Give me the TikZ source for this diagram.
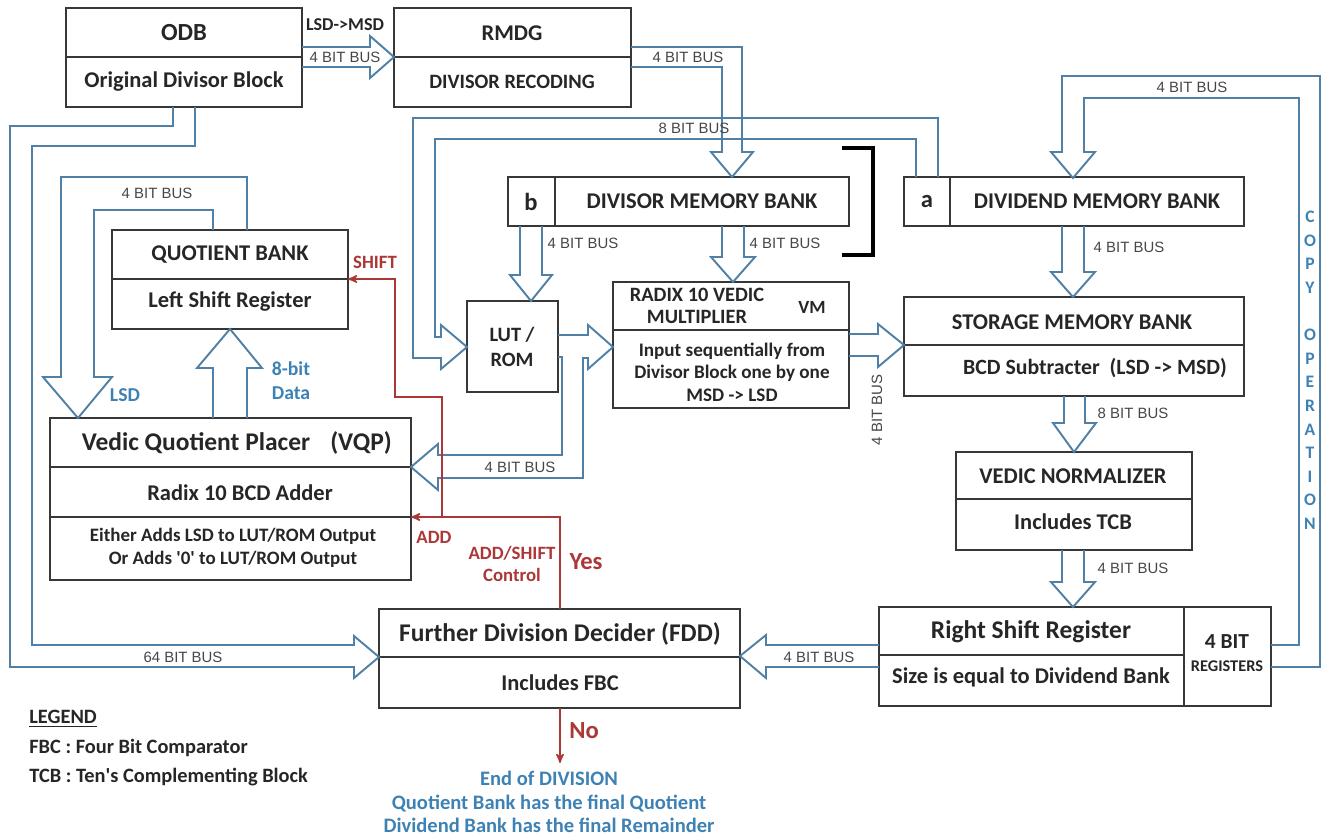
\documentclass[tikz,border=0pt]{standalone}
\usepackage{fontspec}
\setmainfont{Carlito}
\newfontfamily\busfont{Liberation Sans}
\usetikzlibrary{arrows}
\usetikzlibrary{fit}
\definecolor{busblue}{RGB}{80,128,165}
\definecolor{lblgray}{RGB}{70,70,70}
\definecolor{txtblue}{RGB}{62,130,180}
\definecolor{ctlred}{RGB}{172,55,55}
\definecolor{boxgray}{RGB}{55,55,55}

\begin{document}
\begin{tikzpicture}[x=0.02cm,y=-0.02cm] % pixel grid, y downwards
	\tikzset{box/.style={draw=boxgray,line width=1.3pt,inner sep=0pt},
		bus/.style={draw=busblue,line width=1.1pt,line join=miter},
		ttl/.style={inner sep=0pt,text=black!85,font=\bfseries\fontsize{12.8}{15}\selectfont},
		big/.style={ttl,font=\bfseries\fontsize{14.5}{17}\selectfont},
		sml/.style={ttl,font=\bfseries\fontsize{10.8}{13}\selectfont},
		buslbl/.style={inner sep=0pt,text=lblgray,font=\busfont\fontsize{8.5}{10}\selectfont},
		bluelbl/.style={inner sep=0pt,text=txtblue,font=\bfseries\fontsize{11.2}{13.5}\selectfont},
		redlbl/.style={inner sep=0pt,text=ctlred,font=\bfseries\fontsize{10.7}{13}\selectfont},
		ctl/.style={draw=ctlred,line width=0.9pt,-stealth'}}
	
	\useasboundingbox (0,0) rectangle (1323,839);
	
	% Top row: ODB and RMDG
	\node[box,fit={(66,8)(302,107)}] (odb) {};
	\draw[box] (66,57) -- (302,57);
	\node[ttl,font=\bfseries\fontsize{14}{16}\selectfont] (odbA) at (184,33) {ODB};
	\node[ttl] (odbB) at (184,82) {Original Divisor Block};
	
	\node[box,fit={(394,8)(631,107)}] (rmdg) {};
	\draw[box] (394,57) -- (631,57);
	\node[ttl] (rmdgA) at (512,33) {RMDG};
	\node[ttl,font=\bfseries\fontsize{11.6}{14}\selectfont] (rmdgB) at (512,82) {DIVISOR RECODING};
	
	% Memory banks
	\node[box,fit={(508,177)(849,226)}] (dmb) {};
	\draw[box] (555,177) -- (555,226);
	\node[ttl,font=\bfseries\fontsize{14}{16}\selectfont] (dmbA) at (531,202) {b};
	\node[ttl] (dmbB) at (702,201) {DIVISOR MEMORY BANK};
	
	\node[box,fit={(904,177)(1244,226)}] (ddmb) {};
	\draw[box] (950,177) -- (950,226);
	\node[ttl,font=\bfseries\fontsize{14}{16}\selectfont] (ddmbA) at (927,202) {a};
	\node[ttl] (ddmbB) at (1097,201) {DIVIDEND MEMORY BANK};
	
	% bracket
	\draw[black,line width=1.8pt] (842,148) -- (873,148) -- (873,255) -- (842,255);
	
	% Quotient bank
	\node[box,fit={(112,230)(348,329)}] (qb) {};
	\draw[box] (112,279) -- (348,279);
	\node[ttl] (qbA) at (230,255) {QUOTIENT BANK};
	\node[ttl] (qbB) at (230,302) {Left Shift Register};
	
	% LUT / ROM
	\node[box,fit={(467,301)(558,392)}] (lut) {};
	\node[ttl,font=\bfseries\fontsize{11.6}{14}\selectfont,align=center] (lutA) at (512,347) {LUT /\\ROM};
	
	% Vedic multiplier
	\node[box,fit={(613,282)(849,408)}] (vm) {};
	\draw[box] (613,330) -- (849,330);
	\node[ttl,font=\bfseries\fontsize{11.6}{12.5}\selectfont,align=center] (vmA) at (697,306) {RADIX 10 VEDIC\\MULTIPLIER};
	\node[ttl,font=\bfseries\fontsize{10.6}{12}\selectfont] (vmB) at (812,307) {VM};
	\node[ttl,font=\bfseries\fontsize{10.9}{12.8}\selectfont,align=center] (vmC) at (732,372) {Input sequentially from\\Divisor Block one by one\\MSD -> LSD};
	
	% Storage memory bank
	\node[box,fit={(904,297)(1244,396)}] (smb) {};
	\draw[box] (904,345) -- (1244,345);
	\node[ttl] (smbA) at (1072,322) {STORAGE MEMORY BANK};
	\node[ttl,font=\bfseries\fontsize{12.4}{15}\selectfont] (smbB) at (1095,368) {BCD Subtracter~~(LSD -> MSD)};
	
	% Vedic quotient placer
	\node[box,fit={(50,418)(411,580)}] (vqp) {};
	\draw[box] (50,467) -- (411,467);
	\draw[box] (50,517) -- (411,517);
	\node[big] (vqpA) at (196,443) {Vedic Quotient Placer};
	\node[big] (vqpB) at (361,443) {(VQP)};
	\node[ttl] (vqpC) at (240,493) {Radix 10 BCD Adder};
	\node[sml,align=center] (vqpD) at (233,548) {Either Adds LSD to LUT/ROM Output\\Or Adds \textquotesingle0\textquotesingle\ to LUT/ROM Output};
	
	% Vedic normalizer
	\node[box,fit={(956,452)(1192,550)}] (vn) {};
	\draw[box] (956,499) -- (1192,499);
	\node[ttl] (vnA) at (1073,476) {VEDIC NORMALIZER};
	\node[ttl] (vnB) at (1073,522) {Includes TCB};
	
	% Right shift register
	\node[box,fit={(879,607)(1271,706)}] (rsr) {};
	\draw[box] (1184,607) -- (1184,706);
	\draw[box] (879,655) -- (1184,655);
	\node[big] (rsrA) at (1031,632) {Right Shift Register};
	\node[ttl] (rsrB) at (1031,677) {Size is equal to Dividend Bank};
	\node[ttl,font=\bfseries\fontsize{12.2}{14}\selectfont] (rsrC) at (1227,642) {4 BIT};
	\node[ttl,font=\bfseries\fontsize{9.3}{11}\selectfont] (rsrD) at (1227,666) {REGISTERS};
	
	% Further division decider
	\node[box,fit={(379,609)(740,708)}] (fdd) {};
	\draw[box] (379,657) -- (740,657);
	\node[big] (fddA) at (560,634) {Further Division Decider (FDD)};
	\node[ttl] (fddB) at (560,683) {Includes FBC};
	
	% Buses
	\draw[bus] (302,47) -- (370,47) -- (370,36) -- (394,57) -- (370,78) -- (370,67) -- (302,67);
	\draw[bus] (631,47) -- (742,47) -- (742,152) -- (753,152) -- (732,177) -- (711,152) -- (722,152) -- (722,67) -- (631,67);
	\draw[bus] (938,177) -- (938,118) -- (413,118) -- (413,358) -- (441,358) -- (441,369) -- (467,347) -- (441,325) -- (441,337) -- (435,337) -- (435,139) -- (916,139) -- (916,177);
	\draw[bus] (1271,645) -- (1299,645) -- (1299,98) -- (1084,98) -- (1084,152) -- (1095,152) -- (1073,178) -- (1051,152) -- (1062,152) -- (1062,76) -- (1320,76) -- (1320,667) -- (1271,667);
	\draw[bus] (1062,226) -- (1062,272) -- (1051,272) -- (1073,297) -- (1095,272) -- (1084,272) -- (1084,226);
	\draw[bus] (520,226) -- (520,275) -- (510,275) -- (531,301) -- (552,275) -- (542,275) -- (542,226);
	\draw[bus] (722,226) -- (722,257) -- (711,257) -- (733,282) -- (755,257) -- (744,257) -- (744,226);
	\draw[bus] (558,335) -- (588,335) -- (588,325) -- (613,347) -- (588,369) -- (588,358) -- (583,358) -- (583,478) -- (438,478) -- (438,490) -- (411,467) -- (438,444) -- (438,455) -- (562,455) -- (562,357) -- (558,357);
	\draw[bus] (849,334) -- (878,334) -- (878,324) -- (904,345) -- (878,367) -- (878,356) -- (849,356);
	\draw[bus] (1064,396) -- (1064,423) -- (1053,423) -- (1074,452) -- (1096,423) -- (1085,423) -- (1085,396);
	\draw[bus] (1062,550) -- (1062,582) -- (1051,582) -- (1073,607) -- (1095,582) -- (1084,582) -- (1084,550);
	\draw[bus] (879,645) -- (766,645) -- (766,635) -- (740,656) -- (766,678) -- (766,667) -- (879,667);
	\draw[bus] (173,107) -- (173,126) -- (10,126) -- (10,667) -- (354,667) -- (354,678) -- (379,657) -- (354,636) -- (354,645) -- (32,645) -- (32,146) -- (195,146) -- (195,107);
	\draw[bus] (247,230) -- (247,177) -- (61,177) -- (61,377) -- (43,377) -- (78,418) -- (112,377) -- (94,377) -- (94,210) -- (213,210) -- (213,230);
	\draw[bus] (213,418) -- (213,368) -- (197,368) -- (230,329) -- (262,368) -- (247,368) -- (247,418);
	
	% Bus labels
	\node[buslbl] (l1) at (345,57) {4 BIT BUS};
	\node[ttl,font=\bfseries\fontsize{10.3}{12}\selectfont] (l1b) at (345,25) {LSD->MSD};
	\node[buslbl] (l2) at (688,57) {4 BIT BUS};
	\node[buslbl] (l3) at (1192,87) {4 BIT BUS};
	\node[buslbl] (l4) at (157,193) {4 BIT BUS};
	\node[buslbl] (l5) at (694,128) {8 BIT BUS};
	\node[buslbl] (l6) at (583,243) {4 BIT BUS};
	\node[buslbl] (l7) at (785,243) {4 BIT BUS};
	\node[buslbl] (l8) at (1129,247) {4 BIT BUS};
	\node[buslbl,rotate=90] (l9) at (877,410) {4 BIT BUS};
	\node[buslbl] (l10) at (1133,413) {8 BIT BUS};
	\node[buslbl] (l11) at (520,467) {4 BIT BUS};
	\node[buslbl] (l12) at (1133,568) {4 BIT BUS};
	\node[buslbl] (l13) at (819,657) {4 BIT BUS};
	\node[buslbl] (l14) at (183,657) {64 BIT BUS};
	
	% Blue labels
	\node[bluelbl] (lsd) at (125,395) {LSD};
	\node[bluelbl,align=center] (data) at (291,381) {8-bit\\Data};
	\foreach \ch [count=\i from 0] in {C,O,P,Y}
	{
		\node[bluelbl,font=\bfseries\fontsize{10}{12}\selectfont] (cp\i) at (1310,217+23.6*\i) {\ch};
	}
	\foreach \ch [count=\i from 5] in {O,P,E,R,A,T,I,O,N}
	{
		\node[bluelbl,font=\bfseries\fontsize{10}{12}\selectfont] (cp\i) at (1310,217+23.6*\i) {\ch};
	}
	
	% Control lines
	\draw[ctl] (560,609) -- (560,517) -- (411,517);
	\draw[ctl] (442,517) -- (442,397) -- (395,397) -- (395,279) -- (348,279);
	\draw[ctl] (560,708) -- (560,763);
	\node[redlbl] (shift) at (375,262) {SHIFT};
	\node[redlbl] (add) at (434,537) {ADD};
	\node[redlbl,align=center] (addsh) at (512,564) {ADD/SHIFT\\Control};
	\node[redlbl,font=\bfseries\fontsize{14}{16}\selectfont] (yes) at (586,562) {Yes};
	\node[redlbl,font=\bfseries\fontsize{14}{16}\selectfont] (no) at (584,731) {No};
	
	% End text
	\node[bluelbl,font=\bfseries\fontsize{11.7}{13.4}\selectfont,align=center] (endtxt) at (549,802) {End of DIVISION\\Quotient Bank has the final Quotient\\Dividend Bank has the final Remainder};
	
	% Legend
	\node[ttl,anchor=west,font=\bfseries\fontsize{11.6}{14}\selectfont] (leg) at (29,719) {\underline{LEGEND}};
	\node[ttl,anchor=west,font=\bfseries\fontsize{11.6}{14}\selectfont] (leg1) at (29,748) {FBC : Four Bit Comparator};
	\node[ttl,anchor=west,font=\bfseries\fontsize{11.6}{14}\selectfont] (leg2) at (29,777) {TCB : Ten\textquotesingle s Complementing Block};
	
\end{tikzpicture}
\end{document}
